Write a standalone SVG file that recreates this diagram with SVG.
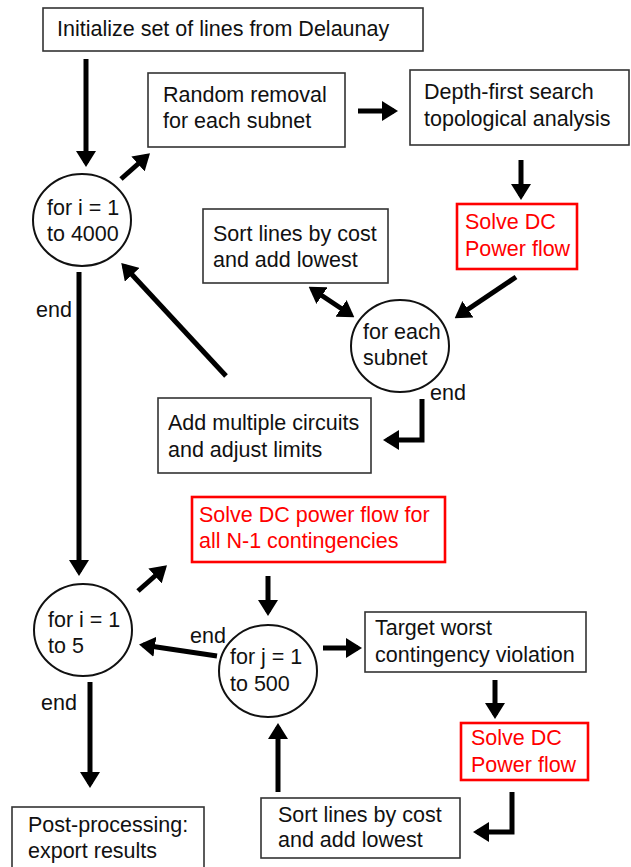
<svg xmlns="http://www.w3.org/2000/svg" width="631" height="867" viewBox="0 0 631 867">
<style>
text{font-family:"Liberation Sans",Arial,sans-serif;font-size:21.5px;fill:#111}
.box{fill:#fff;stroke:#333;stroke-width:1.6}
.red{fill:#fff;stroke:#f00;stroke-width:2.6}
.rt{fill:#f00}
.loop{fill:#fff;stroke:#111;stroke-width:2}
.c{fill:none;stroke:#000;stroke-width:5;marker-end:url(#ah)}
</style>
<defs>
<marker id="ah" viewBox="0 0 16 20" refX="12" refY="10" markerWidth="16" markerHeight="20" markerUnits="userSpaceOnUse" orient="auto-start-reverse">
<path d="M0,0 L16,10 L0,20 z" fill="#000"/>
</marker>
</defs>
<rect width="631" height="867" fill="#fff"/>
<g id="connectors">
<path class="c" d="M86,59 V163"/>
<path class="c" d="M121,179 L147,156"/>
<path class="c" d="M358,111 H394"/>
<path class="c" d="M521,160 V196"/>
<path class="c" d="M516,277 L458,316"/>
<path class="c" d="M312,289 L351,315" style="marker-start:url(#ah)"/>
<path class="c" d="M422,399 V440 H387"/>
<path class="c" d="M226,376 L124,266"/>
<path class="c" d="M79,272 V572"/>
<path class="c" d="M138,591 L164,568"/>
<path class="c" d="M268,576 V612"/>
<path class="c" d="M217,656 L143,645"/>
<path class="c" d="M323,648 H358"/>
<path class="c" d="M495,680 V715"/>
<path class="c" d="M512,792 V832 H477"/>
<path class="c" d="M278,792 V727"/>
<path class="c" d="M90,682 V784"/>
<text x="36" y="317">end</text>
<text x="430" y="400">end</text>
<text x="190" y="643">end</text>
<text x="41" y="710">end</text>
</g>
<g id="init"><rect class="box" x="43" y="8" width="380" height="43"/><text x="57" y="36">Initialize set of lines from Delaunay</text></g>
<g id="random"><rect class="box" x="148" y="73" width="197" height="74"/><text x="163" y="102">Random removal</text><text x="163" y="128">for each subnet</text></g>
<g id="dfs"><rect class="box" x="410" y="70" width="219" height="75"/><text x="424" y="99">Depth-first search</text><text x="424" y="126">topological analysis</text></g>
<g id="solve1"><rect class="red" x="457" y="204" width="120" height="65"/><text class="rt" x="465" y="229">Solve DC</text><text class="rt" x="465" y="256">Power flow</text></g>
<g id="loop4000"><ellipse class="loop" cx="82" cy="220" rx="49" ry="46"/><text x="47" y="215">for i = 1</text><text x="47" y="241">to 4000</text></g>
<g id="sort1"><rect class="box" x="203" y="209" width="185" height="74"/><text x="213" y="241">Sort lines by cost</text><text x="213" y="267">and add lowest</text></g>
<g id="foreach"><ellipse class="loop" cx="400" cy="346" rx="49" ry="46"/><text x="363" y="339">for each</text><text x="363" y="365">subnet</text></g>
<g id="addmult"><rect class="box" x="158" y="398" width="213" height="75"/><text x="168" y="430">Add multiple circuits</text><text x="168" y="457">and adjust limits</text></g>
<g id="solveN1"><rect class="red" x="192" y="497" width="253" height="65"/><text class="rt" x="199" y="522">Solve DC power flow for</text><text class="rt" x="199" y="548">all N-1 contingencies</text></g>
<g id="loop5"><ellipse class="loop" cx="83" cy="630" rx="49" ry="46"/><text x="48" y="627">for i = 1</text><text x="48" y="653">to 5</text></g>
<g id="loop500"><ellipse class="loop" cx="268" cy="671" rx="49" ry="46"/><text x="230" y="664">for j = 1</text><text x="230" y="691">to 500</text></g>
<g id="target"><rect class="box" x="365" y="612" width="221" height="60"/><text x="375" y="635">Target worst</text><text x="375" y="662">contingency violation</text></g>
<g id="solve2"><rect class="red" x="461" y="723" width="127" height="57"/><text class="rt" x="471" y="745">Solve DC</text><text class="rt" x="471" y="772">Power flow</text></g>
<g id="sort2"><rect class="box" x="261" y="798" width="199" height="60"/><text x="278" y="822">Sort lines by cost</text><text x="278" y="847">and add lowest</text></g>
<g id="post"><rect class="box" x="12" y="807" width="192" height="70"/><text x="28" y="832">Post-processing:</text><text x="28" y="858">export results</text></g>
</svg>
